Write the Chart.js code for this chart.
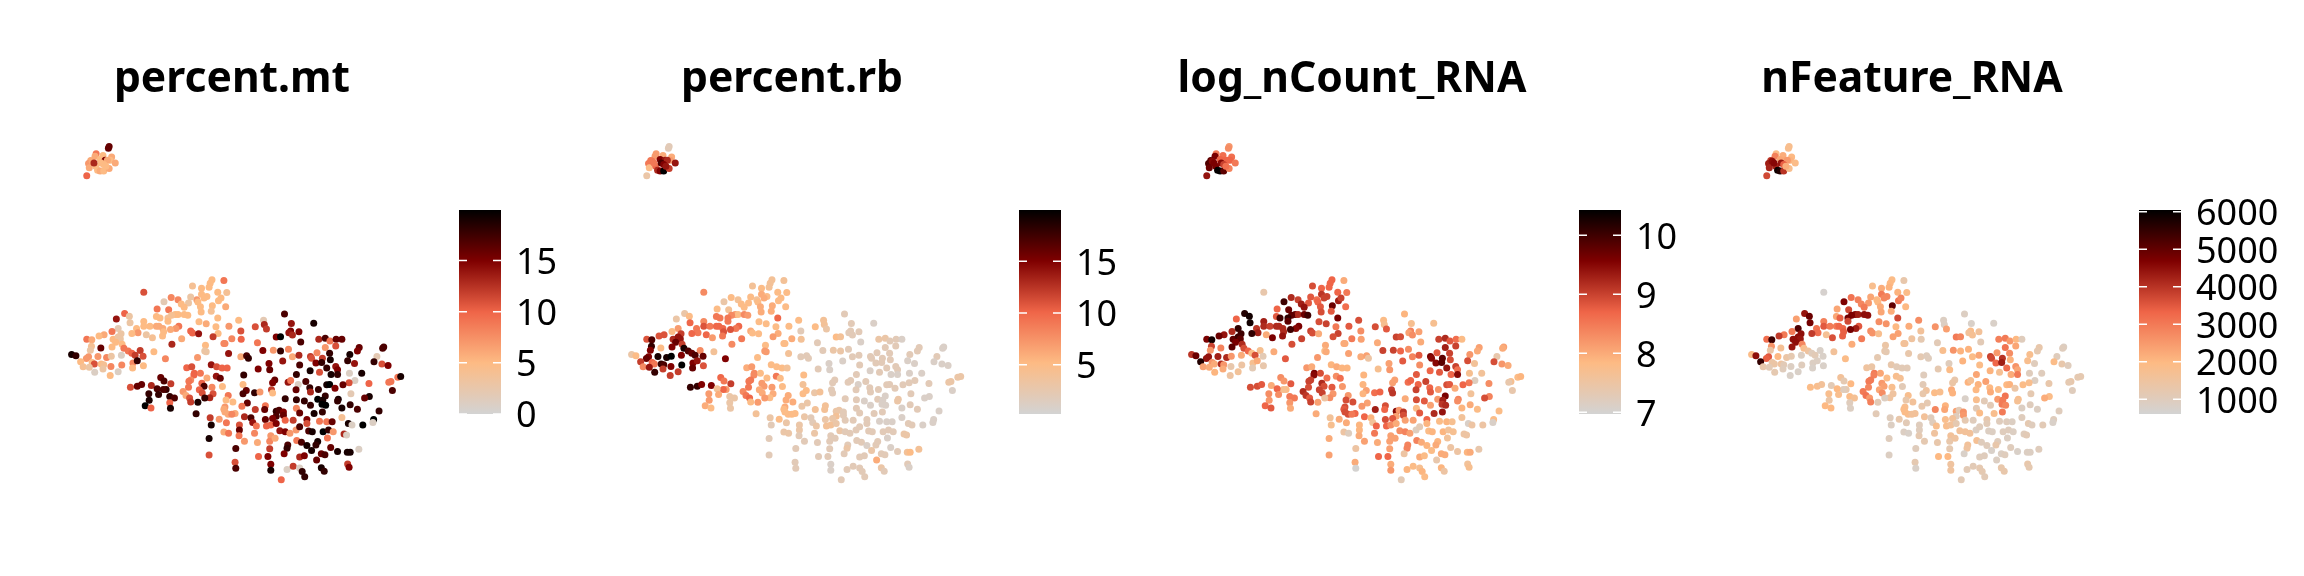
<!DOCTYPE html>
<html>
<head>
<meta charset="utf-8">
<script src="https://cdn.jsdelivr.net/npm/chart.js@4"></script>
<style>
body { margin: 0; background: #fff; }
canvas { position: absolute; }
</style>
</head>
<body>
<script>
const umapX = [
247,245,211,208,230,254,250,196,190,200,
222,236,242,264,192,210,225,232,215,222,
232,247,185,205,238,343,478,503,532,527,
565,524,548,573,503,518,510,490,473,419,
438,399,467,550,557,493,447,455,500,533,
570,380,412,502,530,290,303,267,430,438,
420,455,465,378,388,410,548,606,675,733,
752,814,305,343,343,360,378,385,410,440,
432,417,396,398,496,516,543,579,677,652,
683,612,750,745,773,755,323,327,310,272,
280,255,233,219,350,367,395,448,473,478,
495,549,535,587,613,710,722,828,846,859,
876,892,658,778,185,199,258,272,278,265,
255,283,421,514,565,568,198,195,224,288,
300,310,333,371,512,516,744,702,722,673,
846,875,940,935,1008,1005,858,823,914,143,
155,190,184,216,240,253,281,319,341,403,
492,578,612,628,633,755,773,805,808,838,
860,908,927,989,981,1003,1020,168,200,206,
225,232,313,325,530,545,560,574,690,728,
775,820,836,175,192,230,252,282,312,342,
462,476,660,692,804,850,875,880,862,880,
913,947,207,272,250,483,500,482,544,518,
555,620,766,830,390,399,473,468,504,306,
325,337,364,418,706,700,743,750,771,792,
928,912,895,967,850,858,1047,1055,1028,1022,
467,510,532,561,618,803,805,873,827,765,
697,700,405,397,380,357,384,452,497,505,
535,526,512,460,470,577,627,618,650,665,
917,1032,968,955,846,882,880,735,415,428,
358,347,363,415,417,473,493,571,590,630,
615,766,788,825,839,837,847,915,805,892,
935,568,565,680,678,652,710,718,766,775,
995,488,577,596,587,568,527,552,622,640,
680,730,730,710,700,757,795,815,838,892,
980,978,572,530,608,645,655,683,695,710,
735,795,830,850,865,910,920,950,608,565,
578,607,650,695,720,735,748,765,775,800,
810,840,855,868,898,905,524,622,658,692,
707,767,780,825,820,852,742,795,861,598,
692,740,808,835,845,880,907,915,939,524,
661,687,732,775,788,822,596,598,695,695,
740,757,775,782,835,843,908,912,724,789
]
const umapY = [
80,86,102,110,108,112,122,123,132,125,
120,122,122,130,145,140,130,135,152,155,
155,147,169,130,140,522,503,510,484,495,
487,507,522,523,528,535,540,545,537,538,
545,551,555,548,540,552,558,568,566,563,
566,573,575,582,580,587,595,603,590,590,
592,590,592,596,600,600,600,607,607,588,
617,616,615,611,625,625,625,625,610,625,
632,635,632,642,612,618,627,625,620,627,
634,640,640,645,642,652,632,645,647,632,
648,641,651,655,651,660,655,663,640,646,
648,647,657,663,665,658,657,665,662,670,
665,665,675,673,665,666,665,658,664,674,
688,680,680,683,678,678,686,698,691,692,
700,707,699,703,700,703,695,698,700,699,
690,685,690,700,688,692,707,706,711,711,
715,718,723,717,720,716,713,713,716,724,
720,708,718,715,722,718,713,717,722,722,
727,730,738,717,733,740,744,733,735,740,
740,742,737,730,742,748,752,752,738,731,
743,737,735,748,750,755,747,743,752,745,
751,748,755,757,760,752,747,757,772,772,
768,768,765,763,775,768,768,773,777,782,
783,773,772,765,781,791,788,792,798,810,
807,802,805,800,788,797,795,790,802,793,
790,797,803,799,803,802,780,778,793,795,
810,807,810,808,802,812,825,813,817,818,
818,828,817,817,815,830,832,823,818,828,
830,842,843,835,843,835,820,830,827,825,
830,820,838,843,837,847,852,845,838,843,
850,866,873,857,874,855,856,849,855,858,
868,848,852,847,850,862,865,863,865,873,
877,870,877,866,878,878,883,880,874,888,
882,891,892,890,892,885,903,907,900,903,
908,885,895,898,905,910,908,890,885,902,
908,917,918,925,925,917,928,928,925,920,
910,920,913,915,915,920,925,925,940,946,
950,957,950,957,942,945,950,940,930,943,
945,945,940,945,952,955,966,974,978,974,
965,972,977,975,985,964,985,987,993,996,
997,995,1002,1012,1015,1005,1007,1007,998,1016,
1020,1020,1012,1022,1018,1031,1038,1056,1044,1062,
1060,1050,1055,1066,1054,1065,1043,1053,1091,1082
]
const percentMt = [
16,16,9,6,5,6,5,6,7,6,
5,15,6,6,6,5,5,5,5,6,
5,6,10,13,5,11,4,5,5,5,
9,5,5,4,5,5,5,7,3,8,
8,2,3,5,5,5,5,5,5,5,
6,9,9,5,4,10,3,14,5,5,
4,5,5,5,5,4,5,5,2,17,
14,19,3,5,5,5,6,6,5,9,
7,6,6,5,5,6,5,7,13,11,
12,11,15,14,15,13,5,7,5,2,
3,9,6,5,3,4,5,6,10,10,
14,5,12,8,10,15,20,13,17,9,
16,16,9,17,9,6,5,3,3,5,
5,5,13,5,8,8,4,3,16,9,
9,10,12,5,3,3,8,7,18,15,
7,11,16,15,17,17,18,8,19,19,
18,7,7,7,8,3,1,12,11,8,
7,14,6,17,18,6,13,12,11,12,
19,18,14,2,18,11,15,5,5,11,
5,4,8,18,14,11,10,10,15,14,
17,15,18,4,3,3,8,8,5,5,
10,11,15,16,19,18,14,15,19,18,
1,19,1,1,5,10,9,10,14,6,
16,18,18,11,16,17,8,9,10,11,
16,16,13,12,16,15,14,9,1,17,
1,11,16,10,19,20,9,19,9,9,
9,17,8,5,5,18,13,15,18,16,
12,5,18,17,17,18,18,7,10,11,
11,13,18,6,11,9,16,17,18,7,
2,17,19,16,18,19,18,18,18,17,
19,20,10,10,19,12,19,5,5,16,
9,18,18,20,19,20,20,18,18,19,
17,7,6,9,16,12,18,17,8,16,
18,18,6,6,8,6,12,7,13,17,
16,15,16,17,15,12,15,19,18,4,
20,1,9,19,11,14,9,10,10,15,
10,11,9,9,16,19,1,20,16,6,
9,9,8,7,14,15,7,7,17,17,
19,20,18,7,13,1,19,7,6,8,
6,9,17,19,18,9,17,19,16,17,
12,18,19,16,17,19,19,19,1,11,
10,15,15,13,15,16,11,17,15,19,
1,12,1,18,19,18,12,15,10,18
]
const percentRb = [
2,2,7,7,6,6,7,9,9,9,
15,14,13,14,5,10,17,15,13,15,
20,12,3,9,14,8,4,5,4,4,
4,4,5,5,6,5,6,4,5,5,
4,3,5,5,5,5,5,5,6,6,
5,5,4,6,6,3,5,3,7,5,
8,8,7,9,9,9,10,5,4,2,
2,1,10,8,11,9,10,10,9,10,
9,11,10,11,5,5,5,5,4,5,
3,2,2,2,2,2,9,9,10,7,
12,5,11,11,10,7,9,9,6,5,
5,6,7,6,4,5,4,3,3,2,
2,1,2,1,11,17,13,14,14,16,
15,12,8,5,5,5,18,15,5,19,
17,16,8,4,7,7,2,3,3,2,
2,2,2,2,1,1,2,2,2,3,
5,15,16,19,19,20,15,17,16,15,
5,4,2,2,2,2,2,2,2,2,
2,1,1,2,1,1,1,12,10,9,
18,17,15,14,5,5,5,4,1,1,
2,2,2,8,14,12,15,20,16,11,
6,7,2,1,1,2,2,2,1,1,
1,1,18,12,12,8,5,8,9,5,
5,5,2,2,10,9,9,9,7,18,
18,15,15,12,2,2,2,2,1,2,
2,2,2,2,2,2,3,3,3,3,
9,7,7,5,4,2,2,2,2,2,
2,2,7,10,4,7,6,8,6,6,
6,5,7,9,10,6,5,5,3,4,
2,1,1,1,1,3,3,2,3,3,
7,6,5,3,3,5,7,6,6,3,
3,2,1,2,1,1,1,2,1,1,
2,6,5,4,4,4,3,3,2,2,
1,4,5,5,5,5,3,5,3,2,
3,2,2,4,3,2,2,2,2,1,
1,1,3,2,3,2,3,4,4,3,
2,2,1,1,1,2,2,1,3,3,
3,2,3,2,3,2,2,2,2,2,
2,2,2,2,3,3,2,2,2,2,
2,2,2,2,2,1,2,1,1,2,
2,3,3,2,2,2,4,5,4,2,
2,2,2,2,2,6,2,2,1,1,
2,2,2,2,3,2,2,1,2,2
]
const logCount = [
8.2,8.3,8.5,9.6,8.6,8.6,8.7,9.8,9.9,9.5,
8.7,8.7,8.7,8.5,9.7,9.6,9.5,9,10.4,10.4,
9.8,8.4,9.4,9.6,8.6,7.4,8.9,8.7,8.7,8.7,
8,8.7,8.7,8.5,9.1,9,9,8.6,8.8,9.2,
9,10,8.8,9.3,9,8.7,9.3,9.4,8.8,9.7,
8.6,8.7,9.7,8.9,8.8,10.2,10.3,8.7,9.7,9.2,
9.8,9.7,10,8.8,10,10.1,9.6,8.9,7.8,7.9,
7.7,7.7,10.3,9.3,9.2,9,9.2,9.2,9.8,9.6,
9.5,10,9.2,9.2,8.9,9,8.5,8.8,7.7,8.9,
8.8,8.3,8.4,8.1,8.1,8.3,9.1,9.3,10.1,10.1,
10,9.2,9.4,9.7,8,9.6,9.4,9,9,8.9,
8,9,8.9,8.5,8.1,9,8.9,9,9.2,8.8,
8.6,7.8,8,8,9.6,10.3,9.8,10,9.8,9.6,
9.8,9.2,8.9,8,8,8,9,8.2,8.4,8.9,
8.7,7.8,7.7,8,7.8,8,8.3,9,8.7,9,
9.3,9,8.1,8,8.1,8,9,8.8,8.2,9.1,
9.7,9.4,9.4,9.3,9.2,8.2,8,8.9,7.3,8.8,
8.2,8.1,8,8.1,7.5,8.4,8.8,9.6,9.5,9.8,
8.9,8.9,7.6,7.4,8.9,8.2,8,10.2,8.2,8,
9.2,8.2,7.7,8,7.9,8,7.9,7.9,8.1,8.8,
8.3,9.5,9.8,8.1,8,8,7.4,7.5,7.3,7.4,
8.2,8,7.7,8.2,8.7,9.4,9,8.6,8.7,9.5,
7.7,7.6,7.9,7.6,7.5,9.6,8.9,9.5,8.3,8.6,
8.6,7.9,8.8,8.8,8.3,8.2,9,9,9.2,8.9,
8.9,8.8,8,8.8,8.1,8.1,8.6,8.7,8.7,9,
7.2,8.5,8.7,8.3,8.9,8.8,7.8,7.9,7.7,7.4,
8.9,8.9,8.8,8.2,7.9,8.7,8.8,8,8.2,9,
9,9.1,7.8,7.7,8.7,8.3,8.3,9.2,9,9,
8.2,8.3,7.5,9.1,8.8,8.2,8.1,7.9,8.6,8.7,
7.6,7.4,8.4,8.9,9.6,8.4,8.3,8,8.5,8.5,
8.2,8.7,8.8,8.2,8,9,8.1,8.9,8.9,8.1,
8.2,8.9,8.8,8.2,9.3,9.1,9.2,8,8.1,7.9,
7.8,8.9,8.8,8.9,8.7,9.3,9.5,8.2,7.8,8.8,
7.8,8,8.9,8.7,8.5,8.9,7.6,8,8.7,7.9,
8.9,9.1,8.9,8.1,8.8,8.1,8.7,9.2,9.4,7.6,
7.8,7.1,8,7.7,7.9,7.6,8.7,8.7,8.3,8,
8.1,7.9,7.8,7.9,7.7,7.1,7.5,7.5,7.9,7.5,
7.2,8,8.5,8.1,8.3,8.4,8.1,7.2,7.3,7.8,
7.9,7.9,7.6,7.7,7.5,7.5,8,8.1,8,8.1,
8.1,8.4,8,7.9,8,7.6,8.4,7.9,7.5,7.5,
8.1,8.4,7.8,8,8,7.5,7.9,8,7.4,8.1,
8.7,8.7,7.5,8,7.8,7.4,8,7,8,8.2,
7.9,7.8,7.7,7.9,7.9,7.5,7.6,7.7,7.3,7.8
]
const nFeature = [
1800,1800,1900,2900,2200,2000,2100,3900,4300,4500,
2300,2300,2500,1900,4200,4200,4400,3400,5900,5700,
4000,1800,3700,4600,2200,700,1800,2200,1900,2000,
1300,2100,2100,1900,3000,2800,2800,2000,2300,3100,
2900,4700,2500,3000,2800,2000,2800,3000,2200,5000,
2000,2300,3700,2300,2200,4400,4900,2400,4600,4300,
4700,4500,4500,2300,3400,4800,3700,2700,900,900,
800,800,4800,2900,3500,3000,3000,3300,3700,3500,
4300,4800,3300,3400,2700,2600,2000,2200,900,2600,
2400,1600,1900,1600,1600,1700,3100,3200,3900,5200,
4500,3000,3000,3900,1700,3600,3400,3000,2700,2600,
1800,2400,2400,1500,1200,3000,2800,2900,3000,2500,
2000,1000,1100,1100,3200,5400,4500,4500,4400,4500,
4400,2800,2200,1400,1700,1600,2600,1400,1700,1800,
1500,1000,800,1600,1300,1200,2100,2600,2100,1800,
3100,2300,1300,1200,900,1000,2700,2500,1800,1900,
4500,3500,3400,2000,1400,1200,900,1100,800,1900,
1200,1300,1200,1000,1000,1900,2300,3800,3700,4000,
2100,1800,1000,1000,1900,1300,1000,5500,1400,1400,
1500,1100,900,900,1300,1100,1100,1100,1000,2100,
1900,3300,4300,1300,1100,1000,900,1000,800,800,
1500,1400,1200,1900,2100,3200,2600,2300,2200,3000,
1000,1000,1200,800,800,3000,2300,2900,1800,1900,
1700,1000,2300,1700,1600,1200,3000,3000,2500,1900,
1800,1600,1100,2000,1300,1400,2100,1700,2100,2400,
900,1800,1900,1300,2000,2100,1200,1200,1300,1200,
2800,2400,1800,1100,1100,2000,2200,1400,1900,2000,
2200,2100,1200,1000,2000,1800,1800,3000,2300,2700,
1500,1500,900,3100,2500,1800,1500,1300,1900,1800,
1200,1000,1900,2200,3100,1800,1700,800,1900,1700,
1400,2000,2000,1000,900,2900,1100,1300,1600,1200,
1300,1800,1100,2500,3000,3000,2800,1000,1100,900,
900,1800,1900,2100,2300,2800,2400,1100,1100,1900,
1000,1100,1800,1600,1600,1900,1000,1300,1600,1000,
1800,2600,2500,1000,1600,1000,1300,1800,3000,1000,
1000,800,1100,900,1000,1000,1800,1800,1600,1200,
1200,1100,1000,1000,900,1200,1000,1100,1000,900,
800,1200,1500,1600,1600,1600,1600,900,1000,900,
900,1000,1000,900,1000,1100,1000,1200,1300,1300,
1500,1700,1000,1000,1300,900,1600,1000,1000,1000,
1200,1500,800,900,1000,800,900,900,1000,900,
2000,2000,800,1000,1000,900,1200,800,1500,1500,
1100,1100,1200,1200,1300,1300,1300,1200,1100,1100
]
const mtTicks = [0, 5, 10, 15]
const rbTicks = [5, 10, 15]
const countTicks = [7, 8, 9, 10]
const featureTicks = [1000, 2000, 3000, 4000, 5000, 6000]
const rampColors = ['#D3D3D3', '#FDBB84', '#EF6548', '#7F0000', '#000000']

const fontName = "'Noto Sans', 'Open Sans', sans-serif"

function hexToRgb(h) {
  return [1, 3, 5].map(i => parseInt(h.slice(i, i + 2), 16))
}

function rampColor(v, min, max) {
  const t = Math.min(1, Math.max(0, (v - min) / (max - min))) * (rampColors.length - 1)
  const i = Math.min(rampColors.length - 2, Math.floor(t))
  const a = hexToRgb(rampColors[i])
  const b = hexToRgb(rampColors[i + 1])
  const c = a.map((x, k) => Math.round(x + (b[k] - x) * (t - i)))
  return `rgb(${c[0]},${c[1]},${c[2]})`
}

function addCanvas(left, top, width, height) {
  const c = document.createElement('canvas')
  c.width = width
  c.height = height
  c.style.left = left + 'px'
  c.style.top = top + 'px'
  c.style.width = width + 'px'
  c.style.height = height + 'px'
  document.body.appendChild(c)
  return c
}

function scatterPanel(offset, title, values, min, max) {
  const points = umapX.map((x, i) => ({ x: x, y: umapY[i] }))
  new Chart(addCanvas(16 + offset, 0, 432, 500), {
    type: 'scatter',
    data: {
      datasets: [{
        data: points,
        pointRadius: 3.5,
        pointBorderWidth: 0,
        pointBackgroundColor: values.map(v => rampColor(v, min, max)),
      }],
    },
    options: {
      responsive: false,
      animation: false,
      devicePixelRatio: 1,
      layout: { padding: 0 },
      plugins: {
        legend: { display: false },
        tooltip: { enabled: false },
        title: {
          display: true,
          text: title,
          color: '#000',
          font: { family: fontName, size: 42.6, weight: 'bold', lineHeight: 1 },
          padding: { top: 59, bottom: 18.4 },
        },
      },
      scales: {
        x: { display: false, min: 0, max: 1175 },
        y: { display: false, min: 0, max: 1140, reverse: true },
      },
    },
  })
}

const tickMarks = {
  id: 'tickMarks',
  afterDatasetsDraw(chart) {
    const { ctx, chartArea: a, scales } = chart
    ctx.save()
    ctx.strokeStyle = '#fff'
    ctx.lineWidth = 1.5
    scales.y.ticks.forEach(t => {
      const y = scales.y.getPixelForValue(t.value)
      ctx.beginPath()
      ctx.moveTo(a.left, y)
      ctx.lineTo(a.left + 8, y)
      ctx.moveTo(a.right - 8, y)
      ctx.lineTo(a.right, y)
      ctx.stroke()
    })
    ctx.restore()
  },
}

function colorBar(offset, ticks, min, max) {
  new Chart(addCanvas(459 + offset, 180, 160, 270), {
    type: 'bar',
    data: {
      labels: [''],
      datasets: [{
        data: [[min, max]],
        barPercentage: 1,
        categoryPercentage: 1,
        backgroundColor(ctx) {
          const a = ctx.chart.chartArea
          if (!a) return rampColors[0]
          const g = ctx.chart.ctx.createLinearGradient(0, a.bottom, 0, a.top)
          rampColors.forEach((c, i) => g.addColorStop(i / (rampColors.length - 1), c))
          return g
        },
      }],
    },
    options: {
      responsive: false,
      animation: false,
      devicePixelRatio: 1,
      layout: { padding: { top: 30, bottom: 36 } },
      plugins: { legend: { display: false }, tooltip: { enabled: false } },
      scales: {
        x: { display: false },
        y: {
          position: 'right',
          min: min,
          max: max,
          border: { display: false },
          grid: { display: false, drawTicks: false },
          afterFit(s) {
            s.width = 118
            s.paddingTop = 0
            s.paddingBottom = 0
          },
          afterBuildTicks(s) { s.ticks = ticks.map(v => ({ value: v })) },
          ticks: {
            color: '#000',
            padding: 15,
            autoSkip: false,
            // the empty first line nudges the digits down onto the tick
            font: { family: fontName, size: 36, lineHeight: 0.17 },
            callback: v => ['', String(v)],
          },
        },
      },
    },
    plugins: [tickMarks],
  })
}

scatterPanel(0, 'percent.mt', percentMt, 0, 19.95)
scatterPanel(560, 'percent.rb', percentRb, 0.23, 19.97)
scatterPanel(1120, 'log_nCount_RNA', logCount, 6.97, 10.43)
scatterPanel(1680, 'nFeature_RNA', nFeature, 608, 6045)

colorBar(0, mtTicks, 0, 19.95)
colorBar(560, rbTicks, 0.23, 19.97)
colorBar(1120, countTicks, 6.97, 10.43)
colorBar(1680, featureTicks, 608, 6045)
</script>
</body>
</html>
